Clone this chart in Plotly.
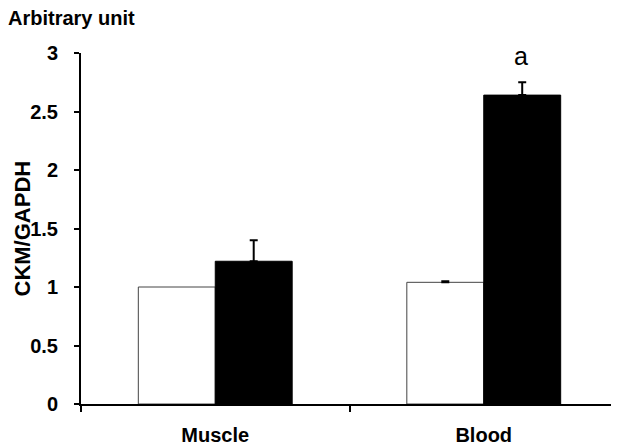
import plotly.graph_objects as go

categories = ["Muscle", "Blood"]
control_values = [1.0, 1.04]
control_errors = [0.0, 0.01]
treated_values = [1.22, 2.64]
treated_errors = [0.18, 0.11]
y_ticks = [0, 0.5, 1, 1.5, 2, 2.5, 3]
y_tick_labels = ["0", "0.5", "1", "1.5", "2", "2.5", "3"]
sig_label = "a"

FONT = "Liberation Sans, Arial, sans-serif"

# page body has an 8px margin, so the figure is sized to fill the rest of the window
W, H = 611, 436

fig = go.Figure()
# control bars: one trace per category (sharing an offset group) so that a zero
# error shows no error mark at all
for i, cat in enumerate(categories):
    err = control_errors[i]
    fig.add_trace(go.Bar(
        x=[cat], y=[control_values[i]], name="Control", offsetgroup="control",
        marker=dict(color="white", line=dict(color="#444444", width=1)),
        error_y=dict(type="data", symmetric=False, array=[err], arrayminus=[0],
                     color="black", thickness=2, width=4, visible=err > 0),
    ))
fig.add_trace(go.Bar(
    x=categories, y=treated_values, name="Treated", offsetgroup="treated",
    marker=dict(color="black", line=dict(color="black", width=1)),
    error_y=dict(type="data", symmetric=False, array=treated_errors,
                 arrayminus=[0, 0], color="black", thickness=2, width=4),
))

fig.update_layout(
    width=W, height=H,
    margin=dict(l=73, r=1, t=45, b=40, autoexpand=False),
    paper_bgcolor="white", plot_bgcolor="white",
    barmode="group", bargap=0.427, bargroupgap=0,
    showlegend=False,
    font=dict(family=FONT, color="black"),
    title=dict(text="<b>Arbitrary unit</b>", x=0, xanchor="left",
               y=1 - 10/H, yanchor="middle", xref="container", yref="container",
               font=dict(family=FONT, size=20, color="black")),
)

fig.update_xaxes(
    type="category", range=[-0.5, 1.5], categoryorder="array", categoryarray=categories,
    showline=True, linecolor="black", linewidth=2,
    ticks="outside", tickson="boundaries", ticklen=6, tickwidth=2, tickcolor="black",
    tickfont=dict(family=FONT, size=20, color="black"),
    ticklabelstandoff=12,
    tickvals=categories, ticktext=["<b>%s</b>" % c for c in categories],
    showgrid=False, zeroline=False, automargin=False,
)
fig.update_yaxes(
    range=[0, 3],
    showline=True, linecolor="black", linewidth=2,
    ticks="outside", ticklen=5, tickwidth=2, tickcolor="black",
    tickvals=y_ticks, ticktext=["<b>%s</b>" % t for t in y_tick_labels],
    tickfont=dict(family=FONT, size=20, color="black"),
    ticklabelstandoff=12,
    showgrid=False, zeroline=False, automargin=False,
)

fig.add_annotation(
    text="<b>CKM/GAPDH</b>", textangle=-90,
    xref="paper", yref="paper", x=0, y=0.5, xanchor="center", yanchor="middle",
    xshift=-59, showarrow=False,
    font=dict(family=FONT, size=22, color="black"),
)
fig.add_annotation(
    text=sig_label, x=categories[1], y=treated_values[1] + treated_errors[1],
    xref="x", yref="y", xshift=37, yshift=10, yanchor="bottom",
    showarrow=False, font=dict(family=FONT, size=25, color="black"),
)

fig.write_html("out.html")
